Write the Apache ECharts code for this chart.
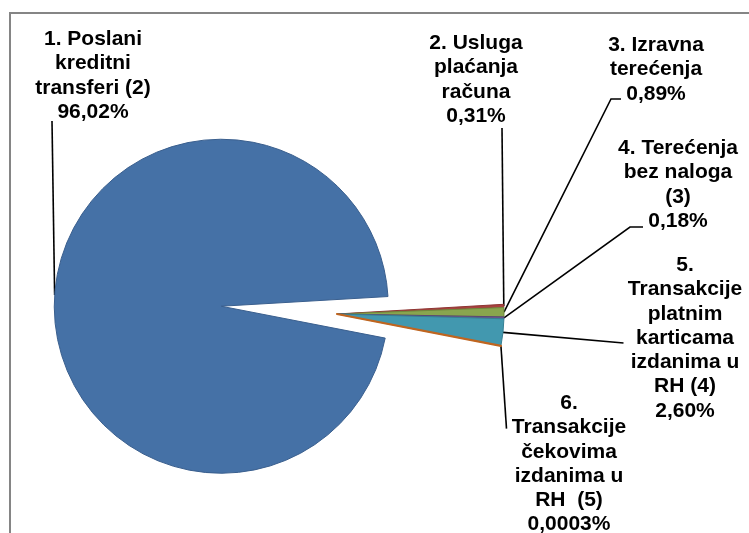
<!DOCTYPE html>
<html><head><meta charset="utf-8">
<script src="https://cdn.jsdelivr.net/npm/echarts@6/dist/echarts.min.js"></script>
<style>html,body{margin:0;padding:0;background:#fff}#c{width:749px;height:533px}</style>
</head><body><div id="c"></div>
<script>
// ---- data ----
const categories = [
  '1. Poslani\nkreditni\ntransferi (2)',
  '2. Usluga\nplaćanja\nračuna',
  '3. Izravna\nterećenja',
  '4. Terećenja\nbez naloga\n(3)',
  '5.\nTransakcije\nplatnim\nkarticama\nizdanima u\nRH (4)',
  '6.\nTransakcije\nčekovima\nizdanima u\nRH  (5)'
];
const shares = [96.02, 0.31, 0.89, 0.18, 2.60, 0.0003];

// ---- style / layout ----
const colors = ['#4571A6', '#A8423F', '#89A54E', '#6F5791', '#4298AF', '#DB843D'];
const borders = ['#3A5F8E', '#8E3532', '#6F8A3C', '#5A4677', '#357F93', '#C0651F'];
const borderW = [1, 1, 1, 1, 1, 2.2];
const labelPos = [
  {cx: 93,  top: 27,  end: [-41, 94]},
  {cx: 476, top: 31,  end: [26, 97]},
  {cx: 656, top: 33,  elbow: [-45, 66], end: [-35, 66]},
  {cx: 678, top: 136, elbow: [-48, 91], end: [-35, 91]},
  {cx: 685, top: 253, end: [-61.5, 90]},
  {cx: 569, top: 391, end: [-62.5, 37.6]}
];
const startAngle = -11;
const radius = 167;
const smallCenter = [337, 314];
const explode = 116;

function fmt(v) {
  const s = v >= 0.01 ? v.toFixed(2) : String(v);
  return s.replace('.', ',') + '%';
}

const total = shares.reduce((a, b) => a + b, 0);
const smallSum = total - shares[0];
const midMain = (startAngle - shares[0] / total * 360 / 2) * Math.PI / 180;
const mainCenter = [smallCenter[0] + explode * Math.cos(midMain), smallCenter[1] - explode * Math.sin(midMain)];

const hidden = {
  itemStyle: {color: 'rgba(0,0,0,0)', borderWidth: 0},
  label: {show: false}, labelLine: {show: false}
};

function item(i) {
  return {
    name: categories[i], value: shares[i],
    itemStyle: {color: colors[i], borderColor: borders[i], borderWidth: borderW[i]}
  };
}

function labelLayout(params) {
  const p = labelPos[params.dataIndex];
  if (!p || !params.labelLinePoints) return {};
  const s = params.labelLinePoints[0];
  const pts = [[s[0], s[1]]];
  if (p.elbow) pts.push([p.cx + p.elbow[0], p.top + p.elbow[1]]);
  pts.push([p.cx + p.end[0], p.top + p.end[1]]);
  return {x: p.cx, y: p.top, align: 'center', verticalAlign: 'top', labelLinePoints: pts};
}

const labelCfg = {
  show: true, position: 'outside',
  formatter: (pr) => pr.name + '\n' + fmt(pr.value),
  fontFamily: 'Liberation Sans, Arial, sans-serif', fontWeight: 'bold',
  fontSize: 21, lineHeight: 24.3, color: '#000', align: 'center'
};
const lineCfg = {show: true, smooth: false, lineStyle: {color: '#000', width: 1.6}};

const mainData = [item(0), Object.assign({name: '', value: smallSum}, hidden)];
const smallData = [Object.assign({name: '', value: shares[0]}, hidden)];
for (let i = 1; i < shares.length; i++) smallData.push(item(i));

const chart = echarts.init(document.getElementById('c'), null, {renderer: 'canvas'});
chart.setOption({
  backgroundColor: '#fff',
  animation: false,
  graphic: [{
    type: 'rect', z: 10, silent: true,
    shape: {x: 10, y: 13, width: 800, height: 600},
    style: {fill: 'none', stroke: '#858585', lineWidth: 2}
  }],
  series: [
    {
      type: 'pie', silent: true, center: mainCenter, radius: radius,
      startAngle: startAngle, clockwise: true, avoidLabelOverlap: false,
      minAngle: 0, minShowLabelAngle: 0,
      label: labelCfg, labelLine: lineCfg, labelLayout: labelLayout,
      data: mainData
    },
    {
      type: 'pie', silent: true, center: smallCenter, radius: radius,
      startAngle: startAngle, clockwise: true, avoidLabelOverlap: false,
      minAngle: 0, minShowLabelAngle: 0,
      label: labelCfg, labelLine: lineCfg, labelLayout: labelLayout,
      data: smallData
    }
  ]
});
</script></body></html>
